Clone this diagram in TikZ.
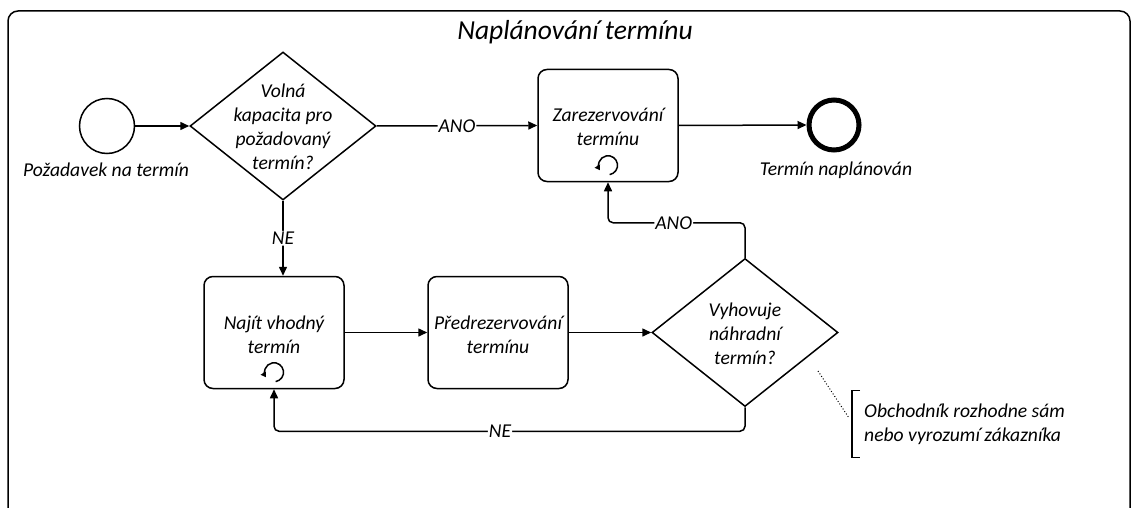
\documentclass[tikz,border=0pt]{standalone}
\usepackage{fontspec}
\setmainfont{Carlito}
\usetikzlibrary{arrows.meta,shapes.geometric}
\begin{document}
\begin{tikzpicture}[x=1pt,y=-1pt,
  every node/.style={font=\fontsize{19.6}{24}\selectfont\itshape},
  txt/.style={align=center, inner sep=0pt},
  task/.style={draw, line width=1.5pt, rounded corners=9pt, minimum width=140pt,
    minimum height=112pt, align=center, inner sep=0pt},
  gateway/.style={draw, diamond, line width=1.5pt, minimum width=186pt,
    minimum height=148pt, inner sep=0pt},
  startev/.style={draw, circle, line width=1.5pt, minimum size=55pt, inner sep=0pt},
  endev/.style={draw, circle, line width=5pt, minimum size=50pt, inner sep=0pt},
  flow/.style={line width=1.5pt, -{Triangle[length=9pt,width=8pt]}, rounded corners=5pt},
  edgelbl/.style={fill=white, inner sep=1pt},
  loopmark/.style={line width=1.5pt, -{Triangle[length=5pt,width=6pt]}},
  notebox/.style={align=left, inner xsep=12pt, inner ysep=0pt, minimum height=67pt, anchor=west}
]
\useasboundingbox (0,0) rectangle (1131,508);

% pool frame and title
\draw[line width=1.5pt, rounded corners=10pt] (8,11) rectangle (1130,540);
\node[font=\fontsize{27.5}{32}\selectfont\itshape] (title) at (575,32) {Naplánování termínu};

% events
\node[startev] (start) at (107,126) {};
\node[txt] (startlbl) at (106,170) {Požadavek na termín};
\node[endev] (end) at (834,125) {};
\node[txt] (endlbl) at (836,170) {Termín naplánován};

% gateways
\node[gateway] (g1) at (283,126) {};
\node[txt] (g1t) at (283,127) {Volná\\kapacita pro\\požadovaný\\termín?};
\node[gateway] (g2) at (745,332.5) {};
\node[txt] (g2t) at (745,334) {Vyhovuje\\náhradní\\termín?};

% tasks
\node[task] (book) at (608,125.5) {};
\node[txt] (bookt) at (608,127) {Zarezervování\\termínu};
\node[task] (find) at (274,332.5) {};
\node[txt] (findt) at (274,335) {Najít vhodný\\termín};
\node[task] (pre) at (498,332.5) {};
\node[txt] (pret) at (498,335) {Předrezervování\\termínu};

% loop markers
\draw[loopmark] ([yshift=17pt]book.south) ++(-80:9.5pt) arc[start angle=-80, end angle=212, radius=9.5pt];
\draw[loopmark] ([yshift=17pt]find.south) ++(-80:9.5pt) arc[start angle=-80, end angle=212, radius=9.5pt];

% sequence flows
\draw[flow] (start.east) -- (g1.west);
\draw[flow] (g1.east) -- node[edgelbl] {ANO} (book.west);
\draw[flow] (book.east) -- (end.west);
\draw[flow] (g1.south) -- node[edgelbl] {NE} (g1.south |- find.north);
\draw[flow] (find.east |- pre.west) -- (pre.west);
\draw[flow] (pre.east) -- (g2.west);
\draw[flow] (g2.north) -- ++(0,-35) -| node[edgelbl, pos=0.26] {ANO} (book.south);
\draw[flow] (g2.south) -- ++(0,24) -| node[edgelbl, pos=0.26] {NE} (find.south);

% text annotation
\node[notebox] (note) at (852,424) {Obchodník rozhodne sám\\nebo vyrozumí zákazníka};
\draw[line width=1.5pt] ([xshift=8pt]note.north west) -- (note.north west) -- (note.south west) -- ([xshift=8pt]note.south west);
\coordinate (annstart) at (818,371);
\draw[dotted, line width=1pt] (annstart) -- ([xshift=-3pt,yshift=6pt]note.west);
\end{tikzpicture}
\end{document}
